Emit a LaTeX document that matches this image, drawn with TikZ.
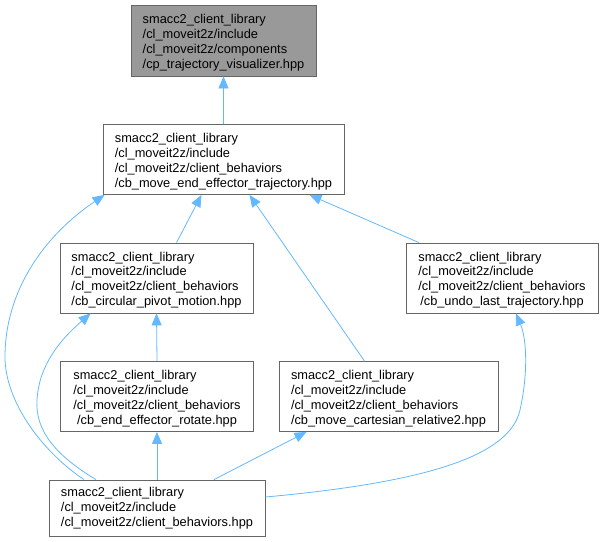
\documentclass[tikz,border=0pt]{standalone}
\usepackage{fontspec}
\setmainfont{Liberation Sans}
\usetikzlibrary{arrows.meta}
\definecolor{linkblue}{HTML}{63B8FF}
\definecolor{boxgray}{HTML}{666666}
\definecolor{topfill}{HTML}{999999}
\begin{document}
\begin{tikzpicture}[x=1pt, y=-1pt,
    file/.style={draw=boxgray, line width=0.8pt, fill=white, inner sep=0pt,
      align=left, font=\fontsize{12.8}{14.8}\selectfont},
    fourline/.style={minimum height=70pt, text height=55.7pt, text depth=0.7pt},
    link/.style={draw=linkblue, line width=0.8pt, -{Triangle[length=12pt,width=10pt]}}]
    \useasboundingbox (0,0) rectangle (604,541);
    \node[file, fourline, fill=topfill, minimum width=185pt, minimum height=71pt] (cp) at (223.5,40.5)
        {smacc2\_client\_library\\/cl\_moveit2z/include\\/cl\_moveit2z/components\\\hspace*{\fill}/cp\_trajectory\_visualizer.hpp\hspace*{\fill}};
    \node[file, fourline, minimum width=241pt] (mover) at (223.5,159.5)
        {smacc2\_client\_library\\/cl\_moveit2z/include\\/cl\_moveit2z/client\_behaviors\\\hspace*{\fill}/cb\_move\_end\_effector\_trajectory.hpp\hspace*{\fill}};
    \node[file, fourline, minimum width=193pt] (circular) at (156.5,278)
        {smacc2\_client\_library\\/cl\_moveit2z/include\\/cl\_moveit2z/client\_behaviors\\\hspace*{\fill}/cb\_circular\_pivot\_motion.hpp\hspace*{\fill}};
    \node[file, fourline, minimum width=192pt] (undo) at (502,278)
        {smacc2\_client\_library\\/cl\_moveit2z/include\\/cl\_moveit2z/client\_behaviors\\\hspace*{\fill}/cb\_undo\_last\_trajectory.hpp\hspace*{\fill}};
    \node[file, fourline, minimum width=193pt] (rotate) at (157,396.5)
        {smacc2\_client\_library\\/cl\_moveit2z/include\\/cl\_moveit2z/client\_behaviors\\\hspace*{\fill}/cb\_end\_effector\_rotate.hpp\hspace*{\fill}};
    \node[file, fourline, minimum width=219pt] (cartesian) at (388.5,396.5)
        {smacc2\_client\_library\\/cl\_moveit2z/include\\/cl\_moveit2z/client\_behaviors\\\hspace*{\fill}/cb\_move\_cartesian\_relative2.hpp\hspace*{\fill}};
    \node[file, minimum width=216pt, minimum height=56pt] (behaviors) at (157,508)
        {smacc2\_client\_library\\/cl\_moveit2z/include\\/cl\_moveit2z/client\_behaviors.hpp};
    \draw[link] (mover.north) -- (cp.south);
    \draw[link] ([xshift=20pt]circular.north) -- ([xshift=-22pt]mover.south);
    \draw[link] ([xshift=-24pt]cartesian.north) -- ([xshift=26pt]mover.south);
    \draw[link] ([xshift=-83pt]undo.north) -- ([xshift=86pt]mover.south);
    \draw[link] (rotate.north) -- (circular.south);
    \draw[link] (behaviors.north) -- (rotate.south);
    \draw[link] ([xshift=57pt]behaviors.north) -- ([xshift=-82pt]cartesian.south);
    \draw[link] ([xshift=-73pt]behaviors.north) .. controls (40,450) and (5,400) .. (5,357)
        .. controls (5,290) and (45,235) .. ([xshift=2pt]mover.south west);
    \draw[link] ([xshift=-61pt]behaviors.north) .. controls (55,455) and (35,430) .. (37,400)
        .. controls (39,365) and (60,340) .. ([xshift=31pt]circular.south west);
    \draw[link] ([yshift=11pt]behaviors.east) .. controls (430,482) and (510,455) .. (520,410)
        .. controls (528,374) and (527,340) .. ([xshift=14pt]undo.south);
\end{tikzpicture}
\end{document}
